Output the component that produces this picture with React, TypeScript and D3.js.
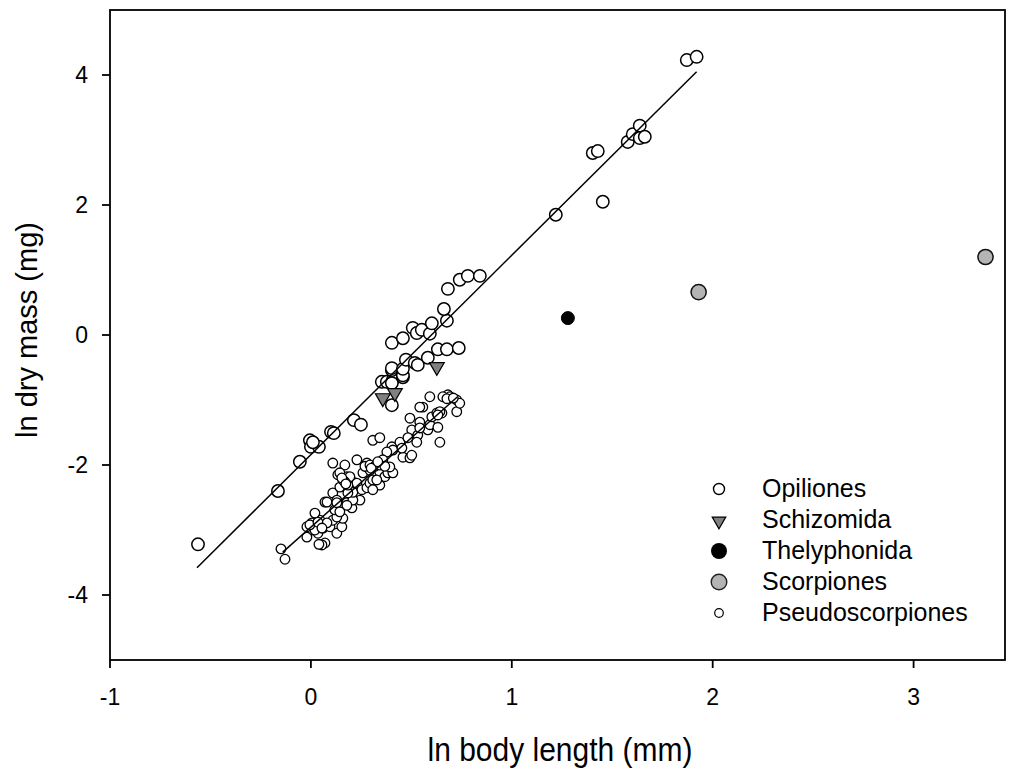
import React from "react";
import * as d3 from "d3";

// ---- data (ln body length mm, ln dry mass mg) ----
const opilionesX = [-0.562,-0.164,-0.055,-0.005,0.0,0.04,0.01,0.10,0.114,0.214,0.249,0.353,0.378,0.408,0.403,0.458,0.403,0.403,0.458,0.403,0.458,0.473,0.517,0.532,0.582,0.632,0.677,0.736,0.403,0.458,0.507,0.527,0.552,0.592,0.602,0.677,0.662,0.682,0.741,0.781,0.841,1.219,1.453,1.403,1.428,1.577,1.602,1.637,1.637,1.662,1.871,1.920];
const opilionesY = [-3.22,-2.40,-1.95,-1.62,-1.72,-1.72,-1.65,-1.49,-1.51,-1.31,-1.38,-0.72,-0.72,-0.69,-0.74,-0.65,-1.08,-0.54,-0.62,-0.51,-0.52,-0.38,-0.43,-0.46,-0.35,-0.22,-0.22,-0.20,-0.12,-0.05,0.11,0.03,0.08,0.02,0.18,0.22,0.40,0.71,0.85,0.91,0.91,1.85,2.05,2.80,2.83,2.97,3.09,3.22,3.03,3.05,4.23,4.28];

const schizomidaX = [0.358,0.418,0.627];
const schizomidaY = [-0.97,-0.89,-0.49];

const thelyphonidaX = [1.279];
const thelyphonidaY = [0.26];

const scorpionesX = [1.930,3.358];
const scorpionesY = [0.66,1.20];

const pseudoX = [-0.149,-0.129,-0.02,0.01,0.035,0.045,0.06,0.02,0.07,0.055,0.04,0.095,0.109,0.129,0.154,0.159,-0.02,0.005,0.02,0.08,0.129,-0.005,0.07,0.08,0.109,0.134,0.109,0.169,0.179,0.194,0.209,0.229,0.244,0.259,0.279,0.129,0.119,0.179,0.204,0.209,0.144,0.194,0.179,0.229,0.209,0.254,0.279,0.294,0.184,0.144,0.169,0.279,0.294,0.328,0.358,0.343,0.368,0.308,0.343,0.383,0.308,0.343,0.403,0.408,0.458,0.493,0.502,0.542,0.532,0.582,0.592,0.632,0.642,0.602,0.627,0.652,0.557,0.592,0.642,0.682,0.692,0.726,0.726,0.741,0.542,0.443,0.483,0.453,0.408,0.393,0.378,0.328,0.308,0.358,0.502,0.527,0.542,0.657,0.493,0.632,0.159,0.184,0.129,0.179,0.144,0.269,0.294,0.318,0.343,0.368,0.30,0.333,0.154,0.174,0.035,0.055,0.677,0.709];
const pseudoY = [-3.29,-3.45,-3.11,-3.00,-3.05,-2.85,-2.97,-2.74,-3.20,-3.23,-3.22,-2.95,-2.85,-3.05,-2.95,-2.82,-2.95,-2.89,-3.00,-2.89,-2.80,-2.92,-2.57,-2.57,-2.43,-2.15,-1.97,-2.00,-2.18,-2.34,-2.26,-1.92,-2.54,-2.12,-2.03,-2.54,-2.69,-2.58,-2.66,-2.54,-2.12,-2.18,-2.35,-2.28,-2.42,-2.38,-2.35,-2.28,-2.43,-2.34,-2.26,-1.97,-2.08,-2.03,-1.95,-2.11,-2.18,-2.23,-2.31,-2.12,-1.62,-1.58,-1.72,-1.77,-1.88,-1.89,-1.46,-1.34,-1.54,-1.46,-1.38,-1.42,-1.65,-1.26,-1.20,-1.20,-1.11,-0.95,-1.18,-0.92,-0.95,-1.00,-1.18,-1.05,-1.11,-1.65,-1.58,-1.74,-2.12,-2.03,-1.80,-2.23,-2.38,-1.92,-1.85,-1.65,-1.43,-0.95,-1.28,-1.23,-2.23,-2.31,-2.58,-2.62,-2.72,-2.02,-2.00,-2.02,-2.00,-2.02,-2.05,-1.95,-2.20,-2.29,-2.88,-2.97,-0.98,-0.97];

// regression line endpoints
const opilionesFitX = [-0.567, 1.92];
const opilionesFitY = [-3.58, 4.05];
const pseudoFitX = [-0.14, 0.73];
const pseudoFitY = [-3.34, -0.95];

const xTicks = [-1, 0, 1, 2, 3];
const yTicks = [-4, -2, 0, 2, 4];
const xDomain = [-1, 3.455];
const yDomain = [-5, 5];

const legendLabels = ["Opiliones", "Schizomida", "Thelyphonida", "Scorpiones", "Pseudoscorpiones"];

const W = 1021, H = 769;
const M = { left: 110, right: 1005, top: 10, bottom: 660 };
const FONT = "'Liberation Sans', Arial, Helvetica, sans-serif";

export default function App() {
  const x = d3.scaleLinear().domain(xDomain).range([M.left, M.right]);
  const y = d3.scaleLinear().domain(yDomain).range([M.bottom, M.top]);
  const line = d3.line<[number, number]>().x(d => x(d[0])).y(d => y(d[1]));
  const tri = d3.symbol().type(d3.symbolTriangle).size(95)();
  const triSmall = d3.symbol().type(d3.symbolTriangle).size(80)();

  const fit1: [number, number][] = opilionesFitX.map((v, i) => [v, opilionesFitY[i]]);
  const fit2: [number, number][] = pseudoFitX.map((v, i) => [v, pseudoFitY[i]]);

  const legendY0 = 489, legendStep = 31, legendMX = 719, legendTX = 762;

  return (
    <svg width={W} height={H} style={{ position: "absolute", left: 0, top: 0, background: "#fff" }} fontFamily={FONT}>
      <rect x={0} y={0} width={W} height={H} fill="#fff" />
      {/* frame */}
      <rect x={M.left} y={M.top} width={M.right - M.left} height={M.bottom - M.top} fill="none" stroke="#000" strokeWidth={1.8} />
      {/* x ticks */}
      {xTicks.map(t => (
        <g key={"xt" + t}>
          <line x1={x(t)} x2={x(t)} y1={M.bottom} y2={M.bottom + 8} stroke="#000" strokeWidth={1.8} />
          <text x={x(t)} y={705} textAnchor="middle" fontSize={23}>{t}</text>
        </g>
      ))}
      {yTicks.map(t => (
        <g key={"yt" + t}>
          <line x1={M.left - 8} x2={M.left} y1={y(t)} y2={y(t)} stroke="#000" strokeWidth={1.8} />
          <text x={88} y={y(t) + 8} textAnchor="end" fontSize={23}>{t}</text>
        </g>
      ))}
      <text transform={`translate(560,761) scale(1,1.12)`} textAnchor="middle" fontSize={30}>ln body length (mm)</text>
      <text transform={`translate(37,330) rotate(-90)`} textAnchor="middle" fontSize={29}>ln dry mass (mg)</text>

      {/* pseudoscorpiones */}
      {pseudoX.map((v, i) => (
        <circle key={"p" + i} cx={x(v)} cy={y(pseudoY[i])} r={4.8} fill="#fff" stroke="#000" strokeWidth={1.3} />
      ))}
      <path d={line(fit2) || ""} fill="none" stroke="#000" strokeWidth={1.5} />
      {/* opiliones */}
      {opilionesX.map((v, i) => (
        <circle key={"o" + i} cx={x(v)} cy={y(opilionesY[i])} r={6.2} fill="#fff" stroke="#000" strokeWidth={1.5} />
      ))}
      <path d={line(fit1) || ""} fill="none" stroke="#000" strokeWidth={1.5} />
      {schizomidaX.map((v, i) => (
        <path key={"s" + i} d={tri || ""} transform={`translate(${x(v)},${y(schizomidaY[i])}) rotate(180)`} fill="#808080" stroke="#000" strokeWidth={1.2} />
      ))}
      {thelyphonidaX.map((v, i) => (
        <circle key={"t" + i} cx={x(v)} cy={y(thelyphonidaY[i])} r={6.5} fill="#000" stroke="#000" strokeWidth={1} />
      ))}
      {scorpionesX.map((v, i) => (
        <circle key={"sc" + i} cx={x(v)} cy={y(scorpionesY[i])} r={7.6} fill="#b4b4b4" stroke="#111" strokeWidth={1.5} />
      ))}

      {/* legend */}
      {legendLabels.map((lab, i) => {
        const ly = legendY0 + i * legendStep;
        let marker: React.ReactNode = null;
        if (i === 0) marker = <circle cx={legendMX} cy={ly} r={5.5} fill="#fff" stroke="#000" strokeWidth={1.4} />;
        if (i === 1) marker = <path d={triSmall || ""} transform={`translate(${legendMX},${ly + 1}) rotate(180)`} fill="#808080" stroke="#000" strokeWidth={1.2} />;
        if (i === 2) marker = <circle cx={legendMX} cy={ly} r={8} fill="#000" />;
        if (i === 3) marker = <circle cx={legendMX} cy={ly} r={7.8} fill="#b4b4b4" stroke="#222" strokeWidth={1.4} />;
        if (i === 4) marker = <circle cx={legendMX} cy={ly} r={4.3} fill="#fff" stroke="#000" strokeWidth={1.2} />;
        return (
          <g key={"l" + i}>
            {marker}
            <text x={legendTX} y={ly + 8} fontSize={25}>{lab}</text>
          </g>
        );
      })}
    </svg>
  );
}
